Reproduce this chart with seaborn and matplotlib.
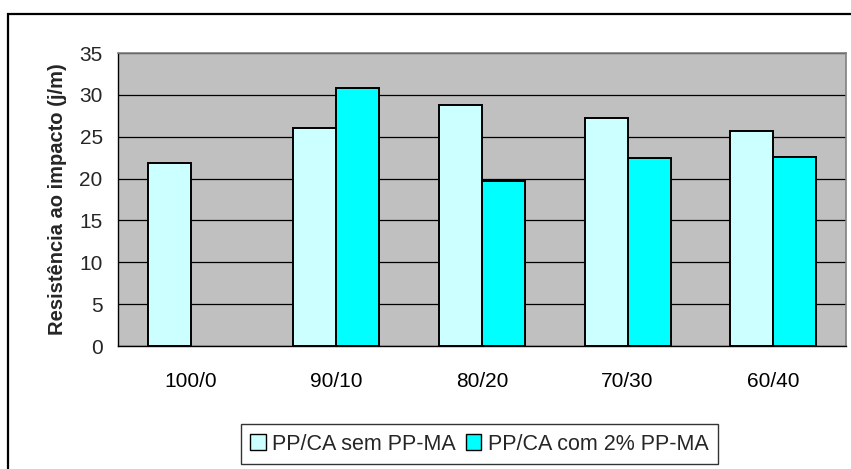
import numpy as np
import pandas as pd
import matplotlib
matplotlib.use("Agg")
import matplotlib.pyplot as plt
from matplotlib.patches import Rectangle
from matplotlib.ticker import FixedLocator
import seaborn as sns

# Impact resistance of PP/CA blends, with and without compatibiliser
compositions = ["100/0", "90/10", "80/20", "70/30", "60/40"]
series_names = ["PP/CA sem PP-MA", "PP/CA com 2% PP-MA"]
sem_pp_ma = [21.9, 26.1, 28.8, 27.2, 25.7]
com_pp_ma = [np.nan, 30.8, 19.7, 22.4, 22.6]
y_ticks = [0, 5, 10, 15, 20, 25, 30, 35]
y_label = "Resistência ao impacto (j/m)"

df = pd.DataFrame({
    "composicao": compositions * 2,
    "serie": [series_names[0]] * len(compositions) + [series_names[1]] * len(compositions),
    "valor": sem_pp_ma + com_pp_ma,
})

sns.set_style("white")
plt.rcParams["font.family"] = ["Liberation Sans", "DejaVu Sans"]
FS = 15

fig = plt.figure(figsize=(8.51, 4.69), dpi=100)
ax = fig.add_axes([118 / 851, 1 - 346 / 469, 728 / 851, 293 / 469])
ax.set_facecolor("#C0C0C0")

sns.barplot(
    data=df, x="composicao", y="valor", hue="serie",
    order=compositions, hue_order=series_names,
    palette=["#CCFFFF", "#00FFFF"], saturation=1, width=0.59,
    edgecolor="black", linewidth=1.4, errorbar=None, ax=ax, legend=True,
)

ax.set_ylim(0, 35)
ax.set_xlim(-0.5, len(compositions) - 0.5)
ax.set_yticks(y_ticks)
ax.yaxis.grid(True, color="black", linewidth=0.9)
ax.set_axisbelow(True)

# category labels at centres, tick marks between categories
ax.tick_params(axis="x", which="major", length=0, labelsize=FS, pad=19, colors="black")
ax.xaxis.set_minor_locator(FixedLocator(np.arange(-0.5, len(compositions), 1.0)))
ax.tick_params(axis="x", which="minor", length=6, width=1, color="black", direction="out")
ax.tick_params(axis="y", length=6, width=1, color="black", direction="out",
               labelsize=FS, pad=5)
ax.set_xlabel("")
ax.set_ylabel(y_label, fontsize=14.5, fontweight="bold", labelpad=9)

for side in ["left", "bottom"]:
    ax.spines[side].set_color("black")
    ax.spines[side].set_linewidth(1.0)
for side in ["top", "right"]:
    ax.spines[side].set_visible(True)
    ax.spines[side].set_color("#808080")
    ax.spines[side].set_linewidth(1.2)

handles, labels = ax.get_legend_handles_labels()
ax.get_legend().remove()
leg = fig.legend(
    handles, labels, loc="center", bbox_to_anchor=(479.5 / 851, 1 - 444 / 469),
    ncol=2, frameon=True, fancybox=False, fontsize=15.5,
    handlelength=0.72, handleheight=0.72, handletextpad=0.3, columnspacing=0.45,
    borderpad=0.45, borderaxespad=0,
)
leg.get_frame().set_edgecolor("black")
leg.get_frame().set_linewidth(1.0)
for h in leg.legend_handles:
    h.set_edgecolor("black")
    h.set_linewidth(1.0)

# outer chart border
fig.patches.append(Rectangle((8 / 851, -0.05), 1.2, 1 - 14 / 469 + 0.05,
                             transform=fig.transFigure, fill=False,
                             edgecolor="black", linewidth=1.6, clip_on=False))

fig.savefig("out.png", dpi=100, facecolor="white")
